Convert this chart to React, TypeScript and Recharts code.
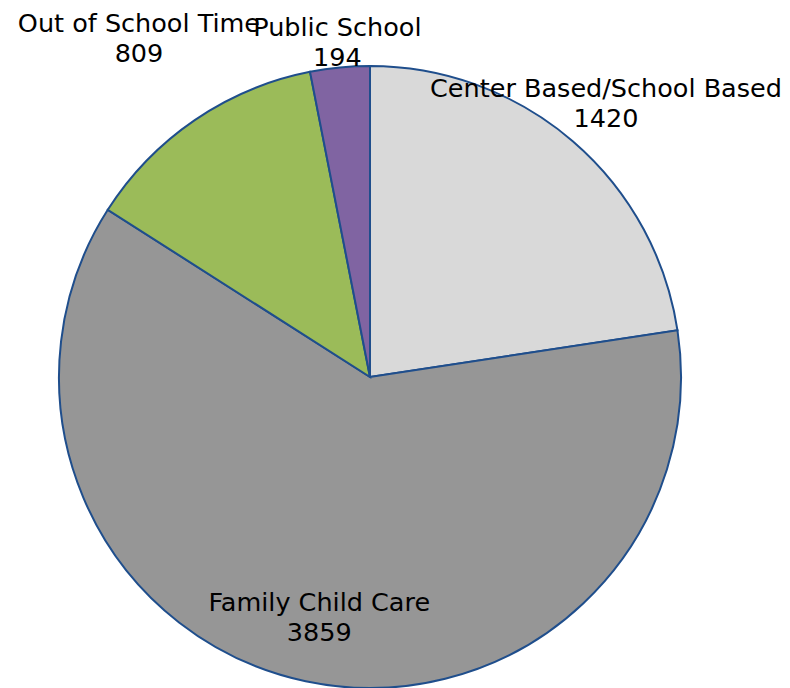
import { PieChart, Pie, Cell } from "recharts";

const categories = [
  "Center Based/School Based",
  "Family Child Care",
  "Out of School Time",
  "Public School",
];
const counts = [1420, 3859, 809, 194];
const colors = ["#d9d9d9", "#969696", "#9bbb59", "#8064a2"];

const data = categories.map((name, i) => ({ name, value: counts[i] }));

// distance of each label from the centre, like Excel's "best fit"
const labelDist = [362, 245, 410, 337];
const RAD = Math.PI / 180;

const renderLabel = (props: any) => {
  const { cx, cy, midAngle, index, name, value } = props;
  const r = labelDist[index];
  const x = cx + r * Math.cos(-midAngle * RAD);
  const y = cy + r * Math.sin(-midAngle * RAD);
  return (
    <text
      x={x}
      y={y}
      textAnchor="middle"
      fill="#000"
      fontSize={25.5}
      fontFamily="DejaVu Sans"
    >
      <tspan x={x} dy={-15} dominantBaseline="central">
        {name}
      </tspan>
      <tspan x={x} dy={30} dominantBaseline="central">
        {value}
      </tspan>
    </text>
  );
};

const App = () => {
  return (
    <div style={{ position: "absolute", left: 0, top: 0, background: "#fff" }}>
      <PieChart
        width={790}
        height={688}
        margin={{ top: 0, right: 0, bottom: 0, left: 0 }}
      >
        <Pie
          data={data}
          dataKey="value"
          nameKey="name"
          cx={370}
          cy={377}
          outerRadius={311}
          startAngle={90}
          endAngle={-270}
          stroke="#1f4e8c"
          strokeWidth={2}
          label={renderLabel}
          labelLine={false}
          isAnimationActive={false}
        >
          {data.map((d, i) => (
            <Cell key={d.name} fill={colors[i]} />
          ))}
        </Pie>
      </PieChart>
    </div>
  );
};

export default App;
